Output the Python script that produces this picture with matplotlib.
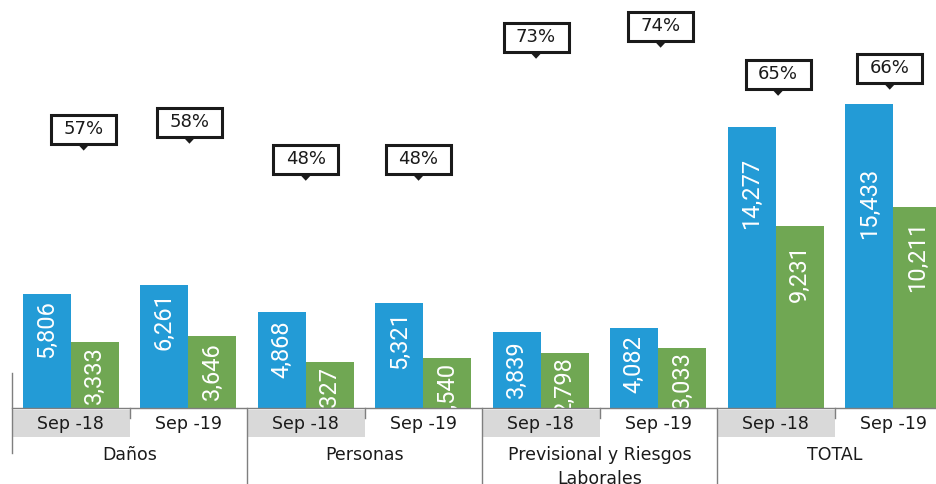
import matplotlib
matplotlib.use('Agg')
import matplotlib.pyplot as plt
import matplotlib.transforms as mtransforms
from matplotlib.patches import Rectangle, Polygon

groups = ['Daños', 'Personas', 'Previsional y Riesgos\nLaborales', 'TOTAL']
periods = ['Sep -18', 'Sep -19']
blue_vals = [5806, 6261, 4868, 5321, 3839, 4082, 14277, 15433]
green_vals = [3333, 3646, 2327, 2540, 2798, 3033, 9231, 10211]
pct_labels = ['57%', '58%', '48%', '48%', '73%', '74%', '65%', '66%']

# callout box centres (slot units, value units) and label offsets (px)
callout_x = [0.61, 1.51, 2.50, 3.46, 4.46, 5.52, 6.52, 7.47]
callout_y = [14150, 14500, 12620, 12620, 18810, 19370, 16930, 17240]
blue_off = [7, 8, 8, 8, 8, 8, 31, 64]
green_off = [4, 6, 4, 4, 3, 3, 18, 14]

blue = '#239bd6'
green = '#70a753'
grey_line = '#7f7f7f'
txt = '#1a1a1a'
bar_w = 48 / 117.5

fig = plt.figure(figsize=(9.36, 4.84), dpi=100)
ax = fig.add_axes([12 / 936, 76 / 484, 940 / 936, 408 / 484])
ax.set_xlim(0, 8)
ax.set_ylim(0, 20700)
ax.axis('off')

n = len(blue_vals)
centers = [i + 0.5 for i in range(n)]
bx = [c - bar_w / 2 for c in centers]
gx = [c + bar_w / 2 for c in centers]
ax.bar(bx, blue_vals, width=bar_w, color=blue, zorder=2)
ax.bar(gx, green_vals, width=bar_w, color=green, zorder=2)


def value_label(x, v, off):
    t = mtransforms.offset_copy(ax.transData, fig, y=-off, units='dots')
    ax.text(x, v, '{:,}'.format(v), transform=t, rotation=90, ha='center',
            va='top', color='white', fontsize=17, family='Roboto',
            zorder=3, clip_on=True)


for i in range(n):
    value_label(bx[i], blue_vals[i], blue_off[i])
    value_label(gx[i], green_vals[i], green_off[i])

# percentage callouts
for i in range(n):
    tr = fig.dpi_scale_trans + mtransforms.ScaledTranslation(callout_x[i], callout_y[i], ax.transData)
    ax.add_patch(Polygon([(-0.07, -0.14), (0.07, -0.14), (0, -0.215)], closed=True,
                         facecolor=txt, edgecolor='none', transform=tr, zorder=4))
    ax.add_patch(Rectangle((-0.325, -0.145), 0.65, 0.29, facecolor='white',
                           edgecolor=txt, lw=2.2, transform=tr, zorder=5))
    ax.text(0, 0, pct_labels[i], transform=tr, ha='center', va='center',
            fontsize=13, color=txt, zorder=6)

# category axis below the bars
bt = mtransforms.blended_transform_factory(ax.transData, ax.transAxes)
ax.plot([0, 8], [0, 0], color=grey_line, lw=1, transform=bt, clip_on=False, zorder=3)
for i in range(n):
    if i % 2 == 0:
        ax.add_patch(Rectangle((i, -0.0711), 1, 0.0662, facecolor='#d9d9d9',
                               edgecolor='none', transform=bt, clip_on=False))
    ax.text(i + 0.5, -0.039, periods[i % 2], transform=bt, ha='center', va='center',
            fontsize=12.5, color=txt, clip_on=False)

for g, name in enumerate(groups):
    ax.text(2 * g + 1, -0.093, name, transform=bt, ha='center', va='top',
            fontsize=12.5, color=txt, linespacing=1.4, clip_on=False)

for x in [2, 4, 6]:
    ax.plot([x, x], [0, -0.19], color=grey_line, lw=1, transform=bt, clip_on=False)
for x in [1, 3, 5, 7]:
    ax.plot([x, x], [0, -0.0245], color=grey_line, lw=1, transform=bt, clip_on=False)
ax.plot([0, 0], [0.086, -0.11], color=grey_line, lw=1, transform=bt, clip_on=False)

fig.savefig('out.png', dpi=100)
